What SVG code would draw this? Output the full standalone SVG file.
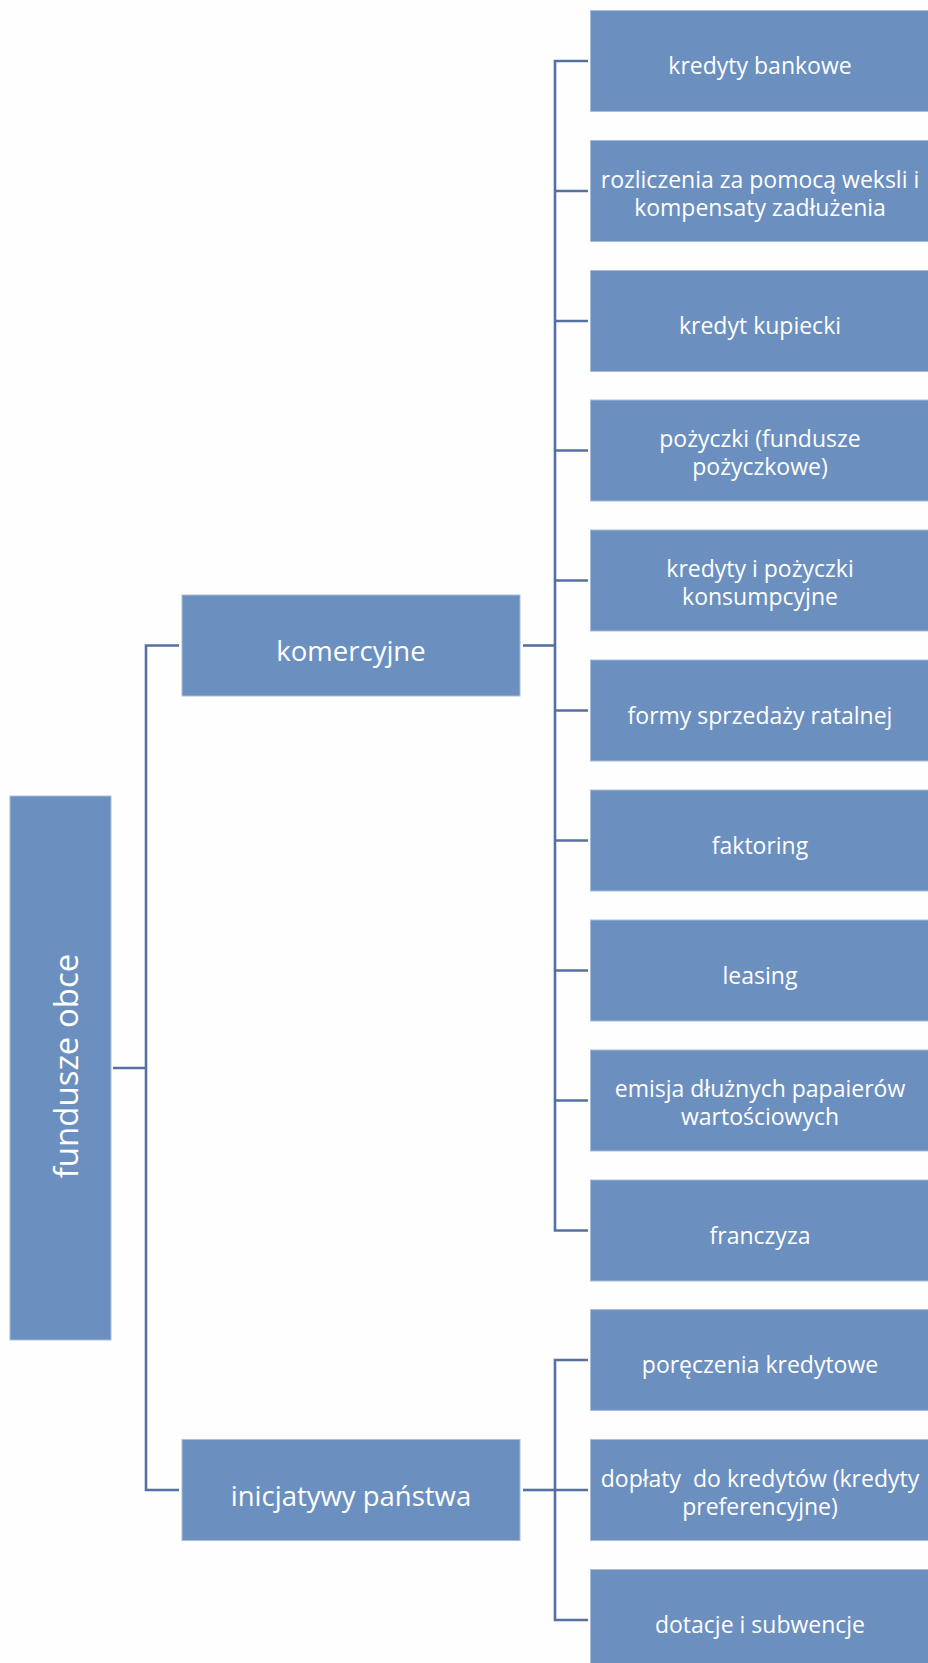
<svg xmlns="http://www.w3.org/2000/svg" width="928" height="1663" viewBox="0 0 928 1663">
  <style>
    .box { fill: #6b8fbf; stroke: #a8bddc; stroke-width: 1; }
    .lbl { fill: #ffffff; font-family: "Open Sans", "Noto Sans", sans-serif; text-anchor: middle; }
    .leaf { font-size: 23px; }
    .mid { font-size: 27.5px; }
    .root { font-size: 33px; }
    .wire { fill: none; stroke: #5571a1; stroke-width: 2.6; stroke-linejoin: miter; }
  </style>
  <rect width="928" height="1663" fill="#fefefe"/>

  <!-- connectors -->
  <g id="connectors" class="wire">
    <!-- root to second level -->
    <path d="M113,1068 H146"/>
    <path d="M179,645.5 H146 V1490 H179"/>
    <!-- komercyjne to its leaves -->
    <path d="M523,645.5 H555"/>
    <path d="M588,61 H555 V1230.5 H588"/>
    <path d="M555,191 H588 M555,321 H588 M555,450.5 H588 M555,580.5 H588 M555,710.5 H588 M555,840.5 H588 M555,970.5 H588 M555,1100.5 H588"/>
    <!-- inicjatywy państwa to its leaves -->
    <path d="M523,1490 H555"/>
    <path d="M588,1360 H555 V1620 H588"/>
    <path d="M555,1490 H588"/>
  </g>

  <!-- root -->
  <g id="fundusze-obce">
    <rect class="box" x="10" y="796" width="101" height="544"/>
    <text class="lbl root" transform="translate(78,1066) rotate(-90)">fundusze obce</text>
  </g>

  <!-- second level -->
  <g id="komercyjne">
    <rect class="box" x="182" y="595" width="338" height="101"/>
    <text class="lbl mid" x="351" y="661">komercyjne</text>
  </g>
  <g id="inicjatywy-panstwa">
    <rect class="box" x="182" y="1439.5" width="338" height="101"/>
    <text class="lbl mid" x="351" y="1506">inicjatywy państwa</text>
  </g>

  <!-- leaves -->
  <g id="kredyty-bankowe">
    <rect class="box" x="590.5" y="10.5" width="345" height="101"/>
    <text class="lbl leaf" x="760" y="74">kredyty bankowe</text>
  </g>
  <g id="rozliczenia">
    <rect class="box" x="590.5" y="140.5" width="345" height="101"/>
    <text class="lbl leaf" x="760" y="188"><tspan x="760">rozliczenia za pomocą weksli i</tspan><tspan x="760" dy="28">kompensaty zadłużenia</tspan></text>
  </g>
  <g id="kredyt-kupiecki">
    <rect class="box" x="590.5" y="270.5" width="345" height="101"/>
    <text class="lbl leaf" x="760" y="334">kredyt kupiecki</text>
  </g>
  <g id="pozyczki">
    <rect class="box" x="590.5" y="400" width="345" height="101"/>
    <text class="lbl leaf" x="760" y="447"><tspan x="760">pożyczki (fundusze</tspan><tspan x="760" dy="28">pożyczkowe)</tspan></text>
  </g>
  <g id="kredyty-konsumpcyjne">
    <rect class="box" x="590.5" y="530" width="345" height="101"/>
    <text class="lbl leaf" x="760" y="577"><tspan x="760">kredyty i pożyczki</tspan><tspan x="760" dy="28">konsumpcyjne</tspan></text>
  </g>
  <g id="sprzedaz-ratalna">
    <rect class="box" x="590.5" y="660" width="345" height="101"/>
    <text class="lbl leaf" x="760" y="723.5">formy sprzedaży ratalnej</text>
  </g>
  <g id="faktoring">
    <rect class="box" x="590.5" y="790" width="345" height="101"/>
    <text class="lbl leaf" x="760" y="853.5">faktoring</text>
  </g>
  <g id="leasing">
    <rect class="box" x="590.5" y="920" width="345" height="101"/>
    <text class="lbl leaf" x="760" y="983.5">leasing</text>
  </g>
  <g id="emisja">
    <rect class="box" x="590.5" y="1050" width="345" height="101"/>
    <text class="lbl leaf" x="760" y="1097"><tspan x="760">emisja dłużnych papaierów</tspan><tspan x="760" dy="28">wartościowych</tspan></text>
  </g>
  <g id="franczyza">
    <rect class="box" x="590.5" y="1180" width="345" height="101"/>
    <text class="lbl leaf" x="760" y="1243.5">franczyza</text>
  </g>
  <g id="poreczenia">
    <rect class="box" x="590.5" y="1309.5" width="345" height="101"/>
    <text class="lbl leaf" x="760" y="1373">poręczenia kredytowe</text>
  </g>
  <g id="doplaty">
    <rect class="box" x="590.5" y="1439.5" width="345" height="101"/>
    <text class="lbl leaf" x="760" y="1486.5" xml:space="preserve"><tspan x="760">dopłaty  do kredytów (kredyty</tspan><tspan x="760" dy="28">preferencyjne)</tspan></text>
  </g>
  <g id="dotacje">
    <rect class="box" x="590.5" y="1569.5" width="345" height="101"/>
    <text class="lbl leaf" x="760" y="1633">dotacje i subwencje</text>
  </g>
</svg>
